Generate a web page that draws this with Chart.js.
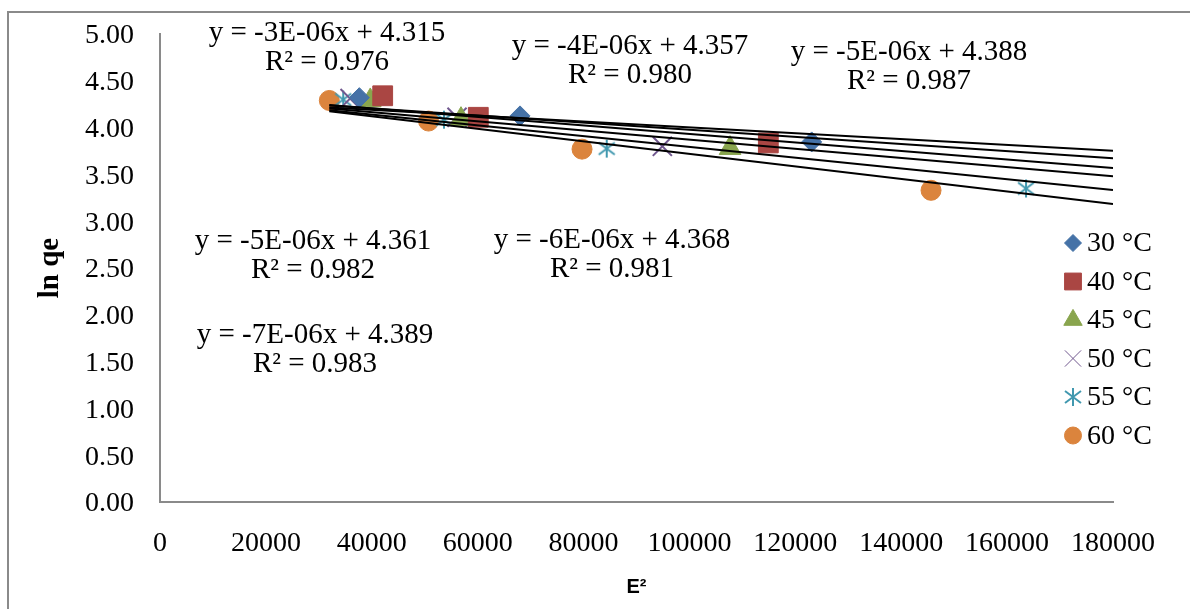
<!DOCTYPE html>
<html>
<head>
<meta charset="utf-8">
<title>ln qe vs E²</title>
<script src="https://cdn.jsdelivr.net/npm/chart.js"></script>
<style>
  html, body { margin: 0; padding: 0; background: #fff; }
  #wrap { width: 1190px; height: 609px; position: relative; }
</style>
</head>
<body>
<div id="wrap"><canvas id="dr"></canvas></div>
<script>
// temperatures
var seriesNames = ['30 °C', '40 °C', '45 °C', '50 °C', '55 °C', '60 °C'];
var seriesColors = ['#4572A7', '#AA4643', '#89A54E', '#71588F', '#4198AF', '#DB843D'];

// E² (x) and ln qe (y) for each temperature
var e2_30 = [37650, 68000, 123090];
var lnqe_30 = [4.32, 4.125, 3.847];
var e2_40 = [42060, 60120, 114900];
var lnqe_40 = [4.34, 4.11, 3.836];
var e2_45 = [39720, 56850, 107670];
var lnqe_45 = [4.29, 4.09, 3.78];
var e2_50 = [35900, 56100, 94880];
var lnqe_50 = [4.31, 4.11, 3.80];
var e2_55 = [34600, 53640, 84370, 163570];
var lnqe_55 = [4.30, 4.085, 3.776, 3.35];
var e2_60 = [31980, 50720, 79710, 145630];
var lnqe_60 = [4.29, 4.07, 3.77, 3.33];

// linear trendlines y = m x + b
var fitSlopes = [-3.12e-6, -3.8e-6, -4.55e-6, -4.9e-6, -5.75e-6, -6.7e-6];
var fitIntercepts = [4.315, 4.357, 4.388, 4.361, 4.368, 4.389];
var fitR2 = [0.976, 0.980, 0.987, 0.982, 0.981, 0.983];

// axis ranges
var xMax = 180000, xStep = 20000;
var yMax = 5, yStep = 0.5;

var allX = [e2_30, e2_40, e2_45, e2_50, e2_55, e2_60];
var allY = [lnqe_30, lnqe_40, lnqe_45, lnqe_50, lnqe_55, lnqe_60];

// asterisk marker for the 55 °C series
function makeAsterisk(color) {
    var c = document.createElement('canvas');
    c.width = 22; c.height = 22;
    var g = c.getContext('2d');
    g.strokeStyle = color;
    g.lineWidth = 2;
    g.beginPath();
    g.moveTo(11, 2); g.lineTo(11, 20);
    g.moveTo(3, 5); g.lineTo(19, 17);
    g.moveTo(3, 17); g.lineTo(19, 5);
    g.stroke();
    return c;
}

var markerStyles = ['rectRot', 'rect', 'triangle', 'crossRot', makeAsterisk(seriesColors[4]), 'circle'];
var markerRadius = [10, 14, 12.5, 13.5, 10, 10];

function eqText(m, b) {
    var parts = m.toExponential(0).split('e');
    var exp = parseInt(parts[1], 10);
    var expStr = (exp < 0 ? '-' : '+') + String(Math.abs(exp)).padStart(2, '0');
    return 'y = ' + parts[0] + 'E' + expStr + 'x + ' + b.toFixed(3);
}

var datasets = [];
for (var i = 0; i < seriesNames.length; i++) {
    var pts = [];
    for (var j = 0; j < allX[i].length; j++) {
        pts.push({ x: allX[i][j], y: allY[i][j] });
    }
    var isLine = (markerStyles[i] === 'crossRot' || typeof markerStyles[i] !== 'string');
    datasets.push({
        label: seriesNames[i],
        data: pts,
        showLine: false,
        order: 1,
        pointStyle: markerStyles[i],
        pointRadius: markerRadius[i],
        pointHoverRadius: markerRadius[i],
        backgroundColor: seriesColors[i],
        borderColor: seriesColors[i],
        borderWidth: isLine ? 2 : 1
    });
}

// trendlines run from the smallest E² to the end of the axis
var xStart = Math.min.apply(null, [].concat.apply([], allX));
for (var k = 0; k < fitSlopes.length; k++) {
    datasets.push({
        label: 'fit' + k,
        data: [
            { x: xStart, y: fitSlopes[k] * xStart + fitIntercepts[k] },
            { x: xMax, y: fitSlopes[k] * xMax + fitIntercepts[k] }
        ],
        showLine: true,
        order: 0,
        pointRadius: 0,
        borderColor: '#000',
        borderWidth: 2,
        fill: false
    });
}

// where the equation boxes sit (centre x, baseline of first line)
var eqPos = [[327, 41], [630, 54], [909, 60], [313, 249], [612, 248], [315, 343]];

var serif = "'Liberation Serif', 'Times New Roman', serif";

var decorPlugin = {
    id: 'decor',
    beforeDraw: function (chart) {
        var ctx = chart.ctx;
        ctx.save();
        ctx.fillStyle = '#fff';
        ctx.fillRect(0, 0, chart.width, chart.height);
        ctx.strokeStyle = '#8a8a8a';
        ctx.lineWidth = 2;
        ctx.strokeRect(8, 12, chart.width + 10, chart.height + 10);
        ctx.restore();
    },
    afterDraw: function (chart) {
        var ctx = chart.ctx;
        ctx.save();
        // trendline equations
        ctx.fillStyle = '#000';
        ctx.font = '29px ' + serif;
        ctx.textAlign = 'center';
        ctx.textBaseline = 'alphabetic';
        for (var i = 0; i < fitSlopes.length; i++) {
            ctx.fillText(eqText(fitSlopes[i], fitIntercepts[i]), eqPos[i][0], eqPos[i][1]);
            ctx.fillText('R² = ' + fitR2[i].toFixed(3), eqPos[i][0], eqPos[i][1] + 29);
        }
        // legend
        ctx.font = '28px ' + serif;
        ctx.textAlign = 'left';
        ctx.textBaseline = 'middle';
        for (var s = 0; s < seriesNames.length; s++) {
            var ly = 243 + s * 38.5;
            ctx.fillStyle = seriesColors[s];
            ctx.strokeStyle = seriesColors[s];
            Chart.helpers.drawPoint(ctx, {
                pointStyle: markerStyles[s],
                radius: markerRadius[s] * 0.85,
                rotation: 0,
                borderWidth: datasets[s].borderWidth
            }, 1073, ly);
            ctx.fillStyle = '#000';
            ctx.fillText(seriesNames[s], 1087, ly + 1);
        }
        ctx.restore();
    }
};

new Chart(document.getElementById('dr'), {
    type: 'scatter',
    data: { datasets: datasets },
    options: {
        responsive: true,
        maintainAspectRatio: false,
        animation: false,
        layout: { padding: { left: 0, top: 34, right: 77, bottom: 0 } },
        plugins: {
            legend: { display: false },
            tooltip: { enabled: false }
        },
        scales: {
            x: {
                type: 'linear',
                min: 0,
                max: xMax,
                grid: { display: false, drawTicks: true, tickLength: 25, tickColor: 'rgba(0,0,0,0)' },
                border: { color: '#8a8a8a', width: 2 },
                ticks: {
                    stepSize: xStep,
                    padding: 0,
                    color: '#000',
                    font: { family: serif, size: 28 },
                    maxRotation: 0,
                    autoSkip: false,
                    callback: function (v) { return String(v); }
                },
                title: {
                    display: true,
                    text: 'E²',
                    color: '#000',
                    font: { family: "'Liberation Sans', Arial, sans-serif", size: 20, weight: 'bold' },
                    padding: { top: 0, bottom: 10 }
                },
                afterFit: function (scale) { scale.height = 107; }
            },
            y: {
                type: 'linear',
                min: 0,
                max: yMax,
                grid: { display: false, drawTicks: true, tickLength: 26, tickColor: 'rgba(0,0,0,0)' },
                border: { color: '#8a8a8a', width: 2 },
                ticks: {
                    stepSize: yStep,
                    padding: 0,
                    labelOffset: 2,
                    color: '#000',
                    font: { family: serif, size: 28 },
                    callback: function (v) { return v.toFixed(2); }
                },
                title: {
                    display: true,
                    text: 'ln qe',
                    color: '#000',
                    font: { family: serif, size: 29, weight: 'bold' },
                    padding: { top: 33, bottom: 0 }
                },
                afterFit: function (scale) { scale.width = 160; }
            }
        }
    },
    plugins: [decorPlugin]
});
</script>
</body>
</html>
